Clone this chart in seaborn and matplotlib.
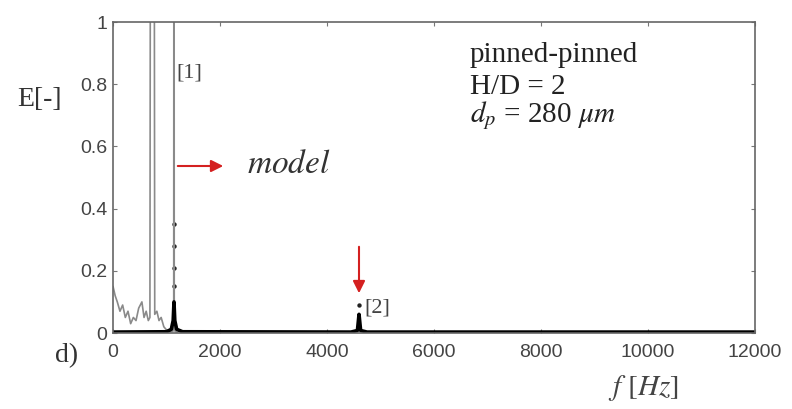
import matplotlib
matplotlib.use("Agg")
import matplotlib.pyplot as plt
import seaborn as sns
import pandas as pd

# --- data ---
exp_f = [0, 40, 80, 130, 180, 230, 280, 330, 380, 430, 480, 540, 580, 620, 660, 690, 710,
         760, 780, 820, 860, 900, 950, 1000, 1060, 1120, 1135, 1140, 1145, 1160, 1200]
exp_E = [0.15, 0.12, 0.10, 0.07, 0.09, 0.05, 0.07, 0.03, 0.05, 0.04, 0.08, 0.10, 0.05, 0.07, 0.04, 0.05, 3.0,
         3.0, 0.06, 0.07, 0.04, 0.05, 0.02, 0.01, 0.005, 0.005, 0.02, 3.0, 0.02, 0.005, 0.003]

model_f = [0, 1000, 1090, 1125, 1140, 1155, 1190, 1300, 4450, 4570, 4600, 4630, 4750, 12000]
model_E = [0.003, 0.004, 0.012, 0.04, 0.10, 0.04, 0.012, 0.004, 0.003, 0.008, 0.06, 0.008, 0.003, 0.003]

dots_f = [1140, 1140, 1140, 1140, 4600]
dots_E = [0.21, 0.28, 0.35, 0.15, 0.09]

x_ticks = [0, 2000, 4000, 6000, 8000, 10000, 12000]
y_ticks = [0, 0.2, 0.4, 0.6, 0.8, 1.0]
y_ticklabels = ["0", "0.2", "0.4", "0.6", "0.8", "1"]

exp_df = pd.DataFrame({"f": exp_f, "E": exp_E})
model_df = pd.DataFrame({"f": model_f, "E": model_E})
dots_df = pd.DataFrame({"f": dots_f, "E": dots_E})

sns.set_style("ticks")
plt.rcParams["font.family"] = ["Liberation Serif", "DejaVu Serif"]
plt.rcParams["mathtext.fontset"] = "stix"

fig = plt.figure(figsize=(7.92, 4.09), dpi=100)
ax = fig.add_axes([0.1427, 0.1858, 0.8103, 0.7604])

sns.lineplot(data=exp_df, x="f", y="E", ax=ax, color="#8a8a8a", lw=1.2, sort=False, estimator=None)
sns.lineplot(data=model_df, x="f", y="E", ax=ax, color="black", lw=2.6, sort=False, estimator=None)
sns.scatterplot(data=dots_df, x="f", y="E", ax=ax, color="#222222", s=10, linewidth=0)

ax.set_xlim(0, 12000)
ax.set_ylim(0, 1)
ax.set_xticks(x_ticks)
ax.set_xticklabels([str(t) for t in x_ticks])
ax.set_yticks(y_ticks)
ax.set_yticklabels(y_ticklabels)
ax.set_xlabel("")
ax.set_ylabel("")
for lab in ax.get_xticklabels() + ax.get_yticklabels():
    lab.set_family(["Liberation Sans", "DejaVu Sans"])
    lab.set_fontsize(14)
ax.tick_params(direction="in", top=True, right=True, length=3, width=0.8, colors="#777777",
               labelcolor="#444444")
ax.tick_params(axis="x", pad=8)
ax.tick_params(axis="y", pad=4)
for sp in ax.spines.values():
    sp.set_visible(True)
    sp.set_color("#666666")
    sp.set_linewidth(1.2)

# texts
fig.text(17 / 792, 1 - 100 / 409, "E[-]", fontsize=20, va="center", ha="left", color="#333333")
fig.text(55 / 792, 1 - 356 / 409, "d)", fontsize=20, va="center", ha="left", color="#333333")
fig.text(608 / 792, 1 - 388 / 409, "$f\\ [Hz]$", fontsize=21, va="center", ha="left", color="#444444")
fig.text(176 / 792, 1 - 73 / 409, "[1]", fontsize=16, va="center", ha="left", color="#444444")
fig.text(364 / 792, 1 - 308 / 409, "[2]", fontsize=16, va="center", ha="left", color="#444444")
fig.text(247 / 792, 1 - 165 / 409, "$model$", fontsize=24, va="center", ha="left", color="#333333")
fig.text(470 / 792, 1 - 55 / 409, "pinned-pinned", fontsize=21, va="center", ha="left", color="#222222")
fig.text(470 / 792, 1 - 87 / 409, "H/D = 2", fontsize=21, va="center", ha="left", color="#222222")
fig.text(470 / 792, 1 - 116 / 409, "$d_p$ = 280 $\\mu m$", fontsize=21, va="center", ha="left", color="#222222")

# red arrows
ax.annotate("", xy=(226 / 792, 1 - 166 / 409), xytext=(175 / 792, 1 - 166 / 409),
            xycoords="figure fraction", textcoords="figure fraction",
            arrowprops=dict(arrowstyle="-|>", color="#d42020", lw=1.5, mutation_scale=18))
ax.annotate("", xy=(359 / 792, 1 - 296 / 409), xytext=(359 / 792, 1 - 244 / 409),
            xycoords="figure fraction", textcoords="figure fraction",
            arrowprops=dict(arrowstyle="-|>", color="#d42020", lw=1.5, mutation_scale=18))

fig.savefig("out.png", dpi=100)
